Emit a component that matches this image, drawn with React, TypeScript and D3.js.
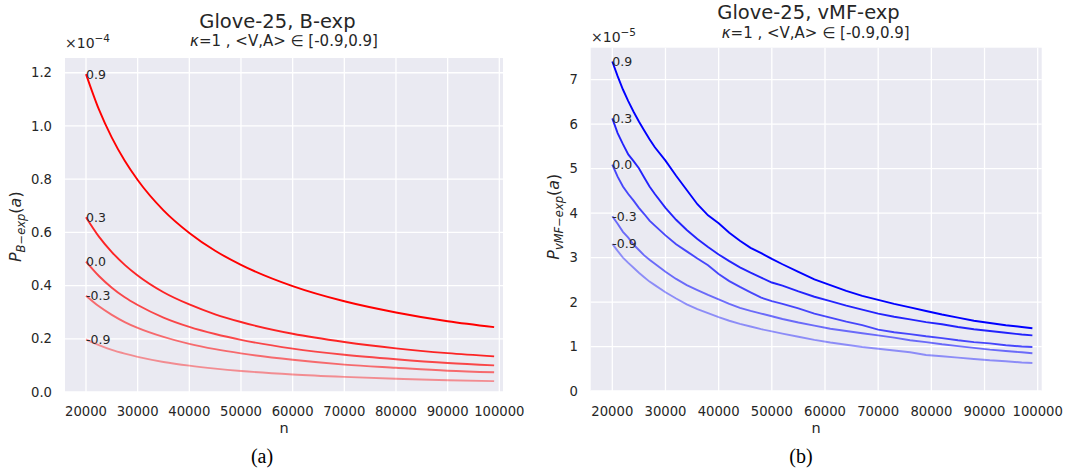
import React from "react";
import * as d3 from "d3";

// ---------- data ----------
const bLabels = ["0.9", "0.3", "0.0", "-0.3", "-0.9"];
const bN = [20000, 22500, 25000, 27500, 30000, 35000, 40000, 45000, 50000, 60000, 70000, 80000, 90000, 99000];
const bS09 = [1.195, 1.062, 0.956, 0.869, 0.797, 0.683, 0.598, 0.531, 0.478, 0.398, 0.341, 0.299, 0.266, 0.244];
const bS03 = [0.657, 0.584, 0.526, 0.478, 0.438, 0.375, 0.329, 0.292, 0.263, 0.219, 0.188, 0.164, 0.146, 0.134];
const bS00 = [0.49, 0.436, 0.392, 0.356, 0.327, 0.28, 0.245, 0.218, 0.196, 0.163, 0.14, 0.123, 0.109, 0.1];
const bSm03 = [0.362, 0.322, 0.29, 0.263, 0.241, 0.207, 0.181, 0.161, 0.145, 0.121, 0.103, 0.091, 0.08, 0.074];
const bSm09 = [0.198, 0.176, 0.158, 0.144, 0.132, 0.113, 0.099, 0.088, 0.079, 0.066, 0.057, 0.05, 0.044, 0.041];

const vLabels = ["0.9", "0.3", "0.0", "-0.3", "-0.9"];
const vN = [20000, 21000, 22000, 23000, 24000, 25000, 26000, 27000, 28000, 30000, 32000, 34000, 36000, 38000, 40000, 42000, 44000, 46000, 48000, 50000, 52000, 55000, 58000, 61000, 64000, 67000, 70000, 73000, 76000, 79000, 82000, 85000, 88000, 91000, 94000, 97000, 99000];
const vS09 = [7.41, 7.08, 6.78, 6.52, 6.28, 6.06, 5.86, 5.66, 5.48, 5.18, 4.84, 4.52, 4.2, 3.95, 3.77, 3.56, 3.38, 3.22, 3.1, 2.97, 2.85, 2.68, 2.51, 2.38, 2.25, 2.14, 2.05, 1.96, 1.88, 1.8, 1.72, 1.65, 1.58, 1.53, 1.48, 1.44, 1.41];
const vS03 = [6.13, 5.8, 5.55, 5.32, 5.17, 5.01, 4.8, 4.6, 4.43, 4.12, 3.85, 3.62, 3.42, 3.24, 3.07, 2.92, 2.78, 2.66, 2.55, 2.44, 2.37, 2.24, 2.12, 2.02, 1.92, 1.83, 1.74, 1.67, 1.61, 1.55, 1.5, 1.44, 1.39, 1.35, 1.31, 1.27, 1.25];
const vS00 = [5.09, 4.82, 4.6, 4.43, 4.28, 4.12, 3.98, 3.83, 3.72, 3.5, 3.3, 3.14, 2.98, 2.83, 2.63, 2.47, 2.34, 2.22, 2.1, 2.02, 1.96, 1.86, 1.74, 1.65, 1.56, 1.48, 1.38, 1.32, 1.28, 1.23, 1.19, 1.14, 1.1, 1.07, 1.03, 1.0, 0.99];
const vSm03 = [3.93, 3.76, 3.58, 3.45, 3.29, 3.17, 3.05, 2.95, 2.86, 2.68, 2.52, 2.38, 2.27, 2.16, 2.06, 1.96, 1.87, 1.8, 1.74, 1.68, 1.62, 1.54, 1.47, 1.4, 1.35, 1.3, 1.25, 1.2, 1.14, 1.1, 1.05, 1.01, 0.97, 0.93, 0.9, 0.87, 0.85];
const vSm09 = [3.31, 3.15, 3.0, 2.88, 2.77, 2.66, 2.56, 2.46, 2.38, 2.22, 2.08, 1.95, 1.84, 1.75, 1.66, 1.58, 1.51, 1.45, 1.39, 1.34, 1.29, 1.22, 1.15, 1.09, 1.04, 0.99, 0.95, 0.91, 0.87, 0.81, 0.78, 0.75, 0.72, 0.69, 0.67, 0.64, 0.63];

const xTicks = [20000, 30000, 40000, 50000, 60000, 70000, 80000, 90000, 100000];
const bYTicks = [0, 0.2, 0.4, 0.6, 0.8, 1.0, 1.2];
const vYTicks = [0, 1, 2, 3, 4, 5, 6, 7];
const seriesOpacity = [1, 0.85, 0.7, 0.55, 0.4];

const TXT = "#262626";
const FONT = "DejaVu Sans, sans-serif";

type PanelProps = {
  x0: number; x1: number; y0: number; y1: number;
  xDomain: [number, number]; yDomain: [number, number];
  yTicks: number[]; yFmt: (v: number) => string;
  ns: number[]; series: number[][]; labels: string[];
  color: string; smooth: boolean;
  title: string; titleX: number; titleY: number;
  subX: number; subY: number;
  expX: number; expY: number; exp: string;
  yLabelX: number; yLabelY: number; sub: string;
  caption: string; captionX: number;
  yTickRight: number;
};

function Panel(p: PanelProps) {
  const x = d3.scaleLinear().domain(p.xDomain).range([p.x0, p.x1]);
  const y = d3.scaleLinear().domain(p.yDomain).range([p.y1, p.y0]);
  const line = d3
    .line<[number, number]>()
    .x((d) => x(d[0]))
    .y((d) => y(d[1]))
    .curve(p.smooth ? d3.curveMonotoneX : d3.curveLinear);
  const cx = (p.x0 + p.x1) / 2;
  return (
    <g>
      <rect x={p.x0} y={p.y0} width={p.x1 - p.x0} height={p.y1 - p.y0} fill="#eaeaf2" />
      {xTicks.map((t) => (
        <line key={"gx" + t} x1={x(t)} x2={x(t)} y1={p.y0} y2={p.y1} stroke="#fff" strokeWidth={1.3} />
      ))}
      {p.yTicks.map((t) => (
        <line key={"gy" + t} x1={p.x0} x2={p.x1} y1={y(t)} y2={y(t)} stroke="#fff" strokeWidth={1.3} />
      ))}
      {p.series.map((s, i) => (
        <path
          key={"s" + i}
          d={line(p.ns.map((n, j) => [n, s[j]] as [number, number])) || ""}
          fill="none"
          stroke={p.color}
          strokeOpacity={seriesOpacity[i]}
          strokeWidth={1.9}
        />
      ))}
      {p.series.map((s, i) => (
        <text key={"l" + i} x={x(p.ns[0])} y={y(s[0]) + 4.5} fontSize={12.5} fill={TXT} fontFamily={FONT}>
          {p.labels[i]}
        </text>
      ))}
      {xTicks.map((t) => (
        <text key={"tx" + t} x={x(t)} y={415.5} fontSize={13.2} fill={TXT} fontFamily={FONT} textAnchor="middle">
          {t}
        </text>
      ))}
      {p.yTicks.map((t) => (
        <text key={"ty" + t} x={p.yTickRight} y={y(t) + 4.7} fontSize={13.2} fill={TXT} fontFamily={FONT} textAnchor="end">
          {p.yFmt(t)}
        </text>
      ))}
      <text x={cx} y={433.3} fontSize={14.5} fill={TXT} fontFamily={FONT} textAnchor="middle">n</text>
      <text x={p.titleX} y={p.titleY} fontSize={19.5} fill={TXT} fontFamily={FONT} textAnchor="middle">{p.title}</text>
      <text x={p.subX} y={p.subY} fontSize={15} fill={TXT} fontFamily={FONT} textAnchor="middle">
        <tspan fontStyle="italic">κ</tspan>=1 , &lt;V,A&gt; ∈ [-0.9,0.9]
      </text>
      <text x={p.expX} y={p.expY} fontSize={14} fill={TXT} fontFamily={FONT}>
        ×10<tspan fontSize={10.5} dy={-6}>{p.exp}</tspan>
      </text>
      <text
        transform={`translate(${p.yLabelX},${p.yLabelY}) rotate(-90)`}
        fontSize={16}
        fill={TXT}
        fontFamily={FONT}
        textAnchor="middle"
      >
        <tspan fontStyle="italic">P</tspan>
        <tspan fontStyle="italic" fontSize={11.5} dy={3.5}>{p.sub}</tspan>
        <tspan dy={-3.5}>(</tspan>
        <tspan fontStyle="italic">a</tspan>
        <tspan>)</tspan>
      </text>
      <text x={p.captionX} y={463} fontSize={20} fill="#000" fontFamily="Liberation Serif, Times New Roman, serif" textAnchor="middle">
        {p.caption}
      </text>
    </g>
  );
}

export default function App() {
  return (
    <svg width={1068} height={473} style={{ position: "absolute", left: 0, top: 0, background: "#fff" }}>
      <rect width={1068} height={473} fill="#fff" />
      <Panel
        x0={65} x1={503} y0={58} y1={392}
        xDomain={[15936, 100716]} yDomain={[0, 1.2555]}
        yTicks={bYTicks} yFmt={(v) => v.toFixed(1)}
        ns={bN} series={[bS09, bS03, bS00, bSm03, bSm09]} labels={bLabels}
        color="#ff0000" smooth={true}
        title="Glove-25, B-exp" titleX={277.4} titleY={28}
        subX={284} subY={46}
        expX={65} expY={48} exp="−4"
        yLabelX={21} yLabelY={226.7} sub="B−exp"
        caption="(a)" captionX={262}
        yTickRight={52}
      />
      <Panel
        x0={590.7} x1={1041.7} y0={47.7} y1={391}
        xDomain={[15937, 100752]} yDomain={[0, 7.72]}
        yTicks={vYTicks} yFmt={(v) => String(v)}
        ns={vN} series={[vS09, vS03, vS00, vSm03, vSm09]} labels={vLabels}
        color="#0000ff" smooth={false}
        title="Glove-25, vMF-exp" titleX={808.5} titleY={19}
        subX={815.7} subY={38}
        expX={591} expY={42} exp="−5"
        yLabelX={559} yLabelY={216.7} sub="vMF−exp"
        caption="(b)" captionX={801}
        yTickRight={578}
      />
    </svg>
  );
}
